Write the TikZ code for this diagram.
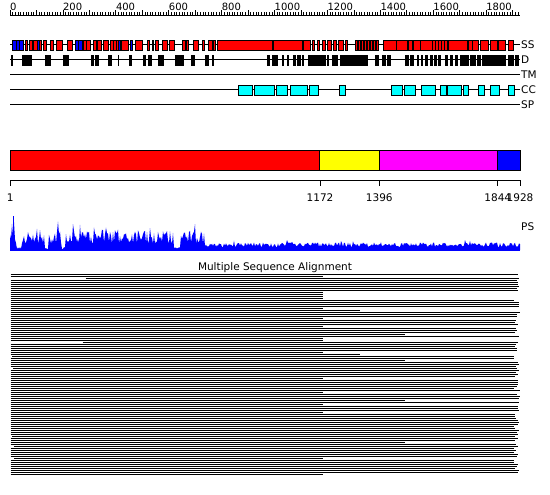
\documentclass[tikz,border=0pt]{standalone}
\usepackage{fontspec}
\newfontfamily\lbl{DejaVu Sans}
\definecolor{pred}{RGB}{255,0,0}
\definecolor{pblue}{RGB}{0,0,255}
\definecolor{pyellow}{RGB}{255,255,0}
\definecolor{pmag}{RGB}{255,0,255}
\definecolor{pcyan}{RGB}{0,255,255}
\pgfmathdeclarefunction{psh}{1}{%
  \begingroup
  \pgfmathsetmacro\dipA{and(#1>=17,#1<=21)}%
  \pgfmathsetmacro\dipB{and(#1>=45,#1<=48)}%
  \pgfmathsetmacro\dipC{and(#1>=62,#1<=65)}%
  \pgfmathsetmacro\dipD{and(#1>=174,#1<=180)}%
  \pgfmathsetmacro\dip{\dipA+\dipB+\dipC+\dipD}%
  \pgfmathsetmacro\hi{6+13*rnd+(rnd>0.8 ? 14*rnd : 0)}%
  \pgfmathsetmacro\lo{3+4.5*rnd+(rnd>0.95 ? 3 : 0)}%
  \pgfmathparse{#1<205 ? (\dip>0 ? 1+2*rnd : \hi) : \lo}%
  \pgfmathsmuggle\pgfmathresult
  \endgroup}
\begin{document}
\begin{tikzpicture}[x=1pt,y=-1pt,
  lab/.style={font=\lbl\fontsize{10.5}{12}\selectfont, inner sep=0pt},
  rlab/.style={font=\lbl\fontsize{10}{12}\selectfont, inner sep=0pt, anchor=base west},
  trk/.style={line width=1pt},
  bx/.style={draw=black, line width=0.8pt},
  aln/.style={line width=1pt, black}]
\useasboundingbox[fill=white] (0,0) rectangle (550,495);
% ruler
\draw[line width=1pt] (10,16) -- (520,16);
\foreach \r in {0,10,...,1920}{
  \pgfmathsetmacro\xx{10+\r*0.264523}
  \draw[line width=0.7pt] (\xx,16) -- (\xx,12.5);
}
\foreach \r in {0,100,...,1900}{
  \pgfmathsetmacro\xx{10+\r*0.264523}
  \draw[line width=0.7pt] (\xx,16) -- (\xx,10.5);
}
\foreach \r in {0,200,...,1800}{
  \pgfmathsetmacro\xx{10+\r*0.264523}
  \node[rlab] (rl\r) at (\xx,11) {\r};
}
% tracks
\foreach \yy/\nm in {45/SS,60/D,75/TM,90/CC,105/SP}{
  \draw[trk] (10,\yy) -- (520,\yy);
  \node[lab, anchor=base west] (t\nm) at (521,\yy+3.8) {\nm};
}
% SS
\foreach \a/\b/\c in {12/16/pblue,16/19/pblue,19/23/pblue,25/27/pred,29/32/pred,
 33/37/pred,37/39/pblue,39/41/pred,43/46/pred,50/53/pred,56/62/pred,67/72/pred,
 75/78/pblue,78/82/pblue,83/86/pred,86/90/pred,93/96/pred,97/101/pred,103/108/pred,
 110/113/pred,113/116/pred,116/118/pred,118/120/pblue,121/128/pred,130/132/pblue,135/142/pred,
 147/149/pred,152/153/pred,155/158/pred,162/167/pred,169/174/pred,
 182/185/pred,185/186/pblue,186/188/pred,193/198/pred,202/204/pred,
 208/212/pred,212/213/pblue,213/215/pred,217/272/pred,273/302/pred,303/310/pred,
 312/314/pred,317/319/pred,322/325/pred,327/331/pred,333/336/pred,338/343/pred,345/347/pred,
 355/357/pred,358/360/pred,361/363/pred,364/366/pred,367/369/pred,370/372/pred,373/375/pred,376/378/pred,
 383/396/pred,396/407/pred,408/412/pred,413/420/pred,420/432/pred,
 432/435/pred,435/438/pred,438/441/pred,441/444/pred,444/447/pred,
 448/467/pred,468/472/pred,472/478/pred,480/488/pred,490/497/pred,498/505/pred,508/513/pred}{
  \draw[bx, fill=\c] (\a,40) rectangle (\b,50.5);
}
% D
\foreach \a/\b in {11/12,22/26,27/31,45/50,63/68,91/93,95/98,108/111,118/118.6,129/131,
 143/145,148/151,158/163,175/183,191/194,205/208,212/213,267/269,272/274,275/277,282/283,
 287/288,293/295,297/300,302/303,308/325,327/328,332/337,340/342,343/362,363/367,375/378,
 382/385,387/390,405/408,410/413,417/418,421/422,425/427,430/432,434/436,438/440,445/447,
 450/452,455/457,460/462,463/468,470/475,477/480,482/487,488/492,493/497,498/505,508/513,515/518}{
  \draw[bx, fill=black] (\a,55) rectangle (\b,65.5);
}
% CC
\foreach \a/\b in {238/252,254/274,276/287,290/307,309/318,339/345,391/402,404/415,421/435,
 440/446,447/461,463/468,478/484,490/499,508/514}{
  \draw[bx, fill=pcyan] (\a,85) rectangle (\b,95.5);
}
% domains
\draw[bx, fill=pred] (10,150) rectangle (319.8,170);
\draw[bx, fill=pyellow] (319.8,150) rectangle (379.1,170);
\draw[bx, fill=pmag] (379.1,150) rectangle (497.6,170);
\draw[bx, fill=pblue] (497.6,150) rectangle (520,170);
\draw[line width=0.8pt] (10,180.5) -- (520,180.5);
\foreach \r in {1,1172,1396,1844,1928}{
  \pgfmathsetmacro\xx{10+\r*0.264523}
  \draw[line width=0.8pt] (\xx,180.5) -- (\xx,186);
  \node[lab, anchor=base] (d\r) at (\xx,201) {\r};
}
% PS
\pgfmathsetseed{4711}
\fill[pblue] (10,250) \foreach \x in {10,...,520}{ -- (\x,{250-psh(\x)}) } -- (520,250) -- cycle;
\fill[pblue] (12.5,250) rectangle (13.5,216);
\draw[pblue, line width=1pt] (10,250) -- (520,250);
\node[lab, anchor=base west] (ps) at (521,230) {PS};
% alignment
\node[lab, anchor=base] (title) at (275,270) {Multiple Sequence Alignment};
\pgfmathsetseed{12345}
\foreach \i in {0,...,100}{
  \pgfmathsetmacro\yy{274.5+2*\i}
  \pgfmathsetmacro\ra{rnd}
  \pgfmathsetmacro\rb{rnd}
  \pgfmathsetmacro\rc{rnd}
  \pgfmathsetmacro\xe{\ra<0.15 ? 323 : (\ra<0.18 ? 405 : (\ra<0.2 ? 360 : (\ra<0.21 ? 298 : 514+6*\rc)))}
  \pgfmathsetmacro\xs{\rb<0.05 ? 72+15*\rc : (\rb<0.12 ? 12+2.5*\rc : 10.5)}
  \draw[aln] (\xs,\yy) -- (\xe,\yy);
}
\end{tikzpicture}
\end{document}
